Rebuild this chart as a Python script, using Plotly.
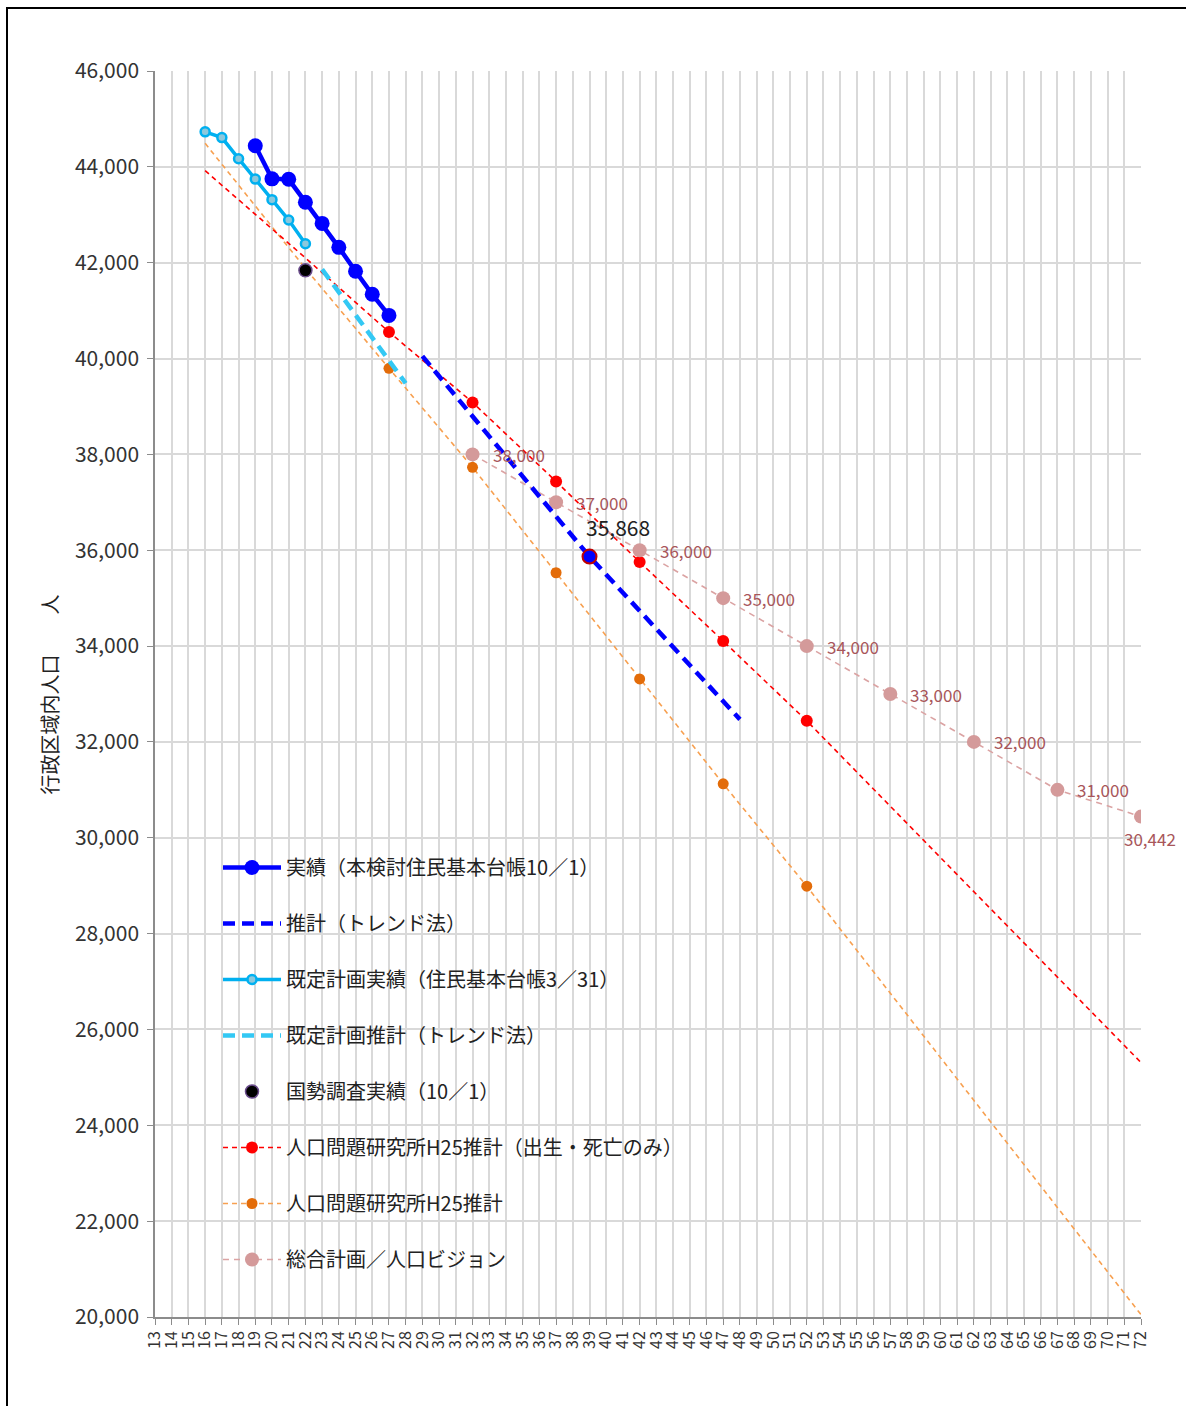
import plotly.graph_objects as go

# ---- data -------------------------------------------------------------
# Actual population (basic resident register, Oct 1)
actual_years = [19, 20, 21, 22, 23, 24, 25, 26, 27]
actual_pop = [44440, 43750, 43740, 43260, 42820, 42320, 41820, 41340, 40900]

# Trend projection from the actual series
trend_years = [29, 39, 48]
trend_pop = [40050, 35868, 32470]
highlight_year = 39
highlight_pop = 35868

# Previous plan: actual (register, Mar 31) and its trend
prev_years = [16, 17, 18, 19, 20, 21, 22]
prev_pop = [44730, 44610, 44170, 43745, 43315, 42890, 42395]
prev_trend_years = [23, 28]
prev_trend_pop = [41860, 39485]

# Census (Oct 1)
census_years = [22]
census_pop = [41840]

# IPSS H25 projections (markers are drawn on the 27-52 points)
ipss_years = [16, 22, 27, 32, 37, 42, 47, 52, 72]
ipss_natural_pop = [43920, 42100, 40555, 39085, 37435, 35755, 34105, 32440, 25310]
ipss_pop = [44490, 41880, 39795, 37730, 35530, 33315, 31125, 28990, 20050]
ipss_mark = slice(2, 8)

# Comprehensive plan / population vision
vision_years = [32, 37, 42, 47, 52, 57, 62, 67, 72]
vision_pop = [38000, 37000, 36000, 35000, 34000, 33000, 32000, 31000, 30442]

x_ticks = list(range(13, 73))
y_ticks = list(range(20000, 46001, 2000))

names = [
    "実績（本検討住民基本台帳10／1）",
    "推計（トレンド法）",
    "既定計画実績（住民基本台帳3／31）",
    "既定計画推計（トレンド法）",
    "国勢調査実績（10／1）",
    "人口問題研究所H25推計（出生・死亡のみ）",
    "人口問題研究所H25推計",
    "総合計画／人口ビジョン",
]

# ---- styles -----------------------------------------------------------
BLUE = "#0000ff"
CYAN = "#00b0f0"
CYAN_FILL = "#8cc8dc"
CYAN_TREND = "#33c8f4"
RED = "#ff0000"
ORANGE_LINE = "#f7a050"
ORANGE_MK = "#e36c09"
PINK_LINE = "#dba3a3"
PINK_MK = "#d49a9a"
PINK_TXT = "#a8565a"
FONT = "Noto Sans CJK JP"

styles = [
    dict(mode="lines+markers", line=dict(color=BLUE, width=4.5),
         marker=dict(color=BLUE, size=15)),
    dict(mode="lines", line=dict(color=BLUE, width=4.5, dash="12px,7px")),
    dict(mode="lines+markers", line=dict(color=CYAN, width=3.5),
         marker=dict(color=CYAN_FILL, size=9, line=dict(color=CYAN, width=2.5))),
    dict(mode="lines", line=dict(color=CYAN_TREND, width=4.5, dash="12px,7px")),
    dict(mode="markers", marker=dict(color="#000000", size=13,
                                     line=dict(color="#6a4c8c", width=1.5))),
    dict(mode="lines+markers", line=dict(color=RED, width=1.6, dash="5px,4px"),
         marker=dict(color=RED, size=12)),
    dict(mode="lines+markers", line=dict(color=ORANGE_LINE, width=1.6, dash="5px,4px"),
         marker=dict(color=ORANGE_MK, size=11)),
    dict(mode="lines+markers", line=dict(color=PINK_LINE, width=1.6, dash="6px,5px"),
         marker=dict(color=PINK_MK, size=14)),
]

fig = go.Figure()

# ---- plotted series (legend handled by the key entries below) ---------
fig.add_trace(go.Scatter(x=ipss_years, y=ipss_pop, mode="lines",
                         line=styles[6]["line"], showlegend=False, hoverinfo="skip"))
fig.add_trace(go.Scatter(x=ipss_years[ipss_mark], y=ipss_pop[ipss_mark], mode="markers",
                         marker=styles[6]["marker"], showlegend=False))
fig.add_trace(go.Scatter(x=ipss_years, y=ipss_natural_pop, mode="lines",
                         line=styles[5]["line"], showlegend=False, hoverinfo="skip"))
fig.add_trace(go.Scatter(x=ipss_years[ipss_mark], y=ipss_natural_pop[ipss_mark],
                         mode="markers", marker=styles[5]["marker"], showlegend=False))
fig.add_trace(go.Scatter(x=vision_years, y=vision_pop, showlegend=False, **styles[7]))
fig.add_trace(go.Scatter(x=prev_trend_years, y=prev_trend_pop, showlegend=False, **styles[3]))
fig.add_trace(go.Scatter(x=trend_years, y=trend_pop, showlegend=False, **styles[1]))
fig.add_trace(go.Scatter(x=prev_years, y=prev_pop, showlegend=False, **styles[2]))
fig.add_trace(go.Scatter(x=actual_years, y=actual_pop, showlegend=False, **styles[0]))
fig.add_trace(go.Scatter(x=census_years, y=census_pop, showlegend=False, **styles[4]))
fig.add_trace(go.Scatter(x=[highlight_year], y=[highlight_pop], mode="markers",
                         marker=dict(color=BLUE, size=14, line=dict(color="#c00000", width=2)),
                         showlegend=False))

# ---- legend key entries ------------------------------------------------
for i, (name, st) in enumerate(zip(names, styles)):
    fig.add_trace(go.Scatter(x=[None], y=[None], name=name, legendgroup=f"g{i}", **st))

# ---- value labels -------------------------------------------------------
annotations = []
for yr, v in zip(vision_years[:-1], vision_pop[:-1]):
    annotations.append(dict(x=yr, y=v, text=f"{v:,}", showarrow=False,
                            xanchor="left", yanchor="middle", xshift=18, yshift=0,
                            font=dict(family=FONT, size=17, color=PINK_TXT)))
annotations.append(dict(x=vision_years[-1], y=vision_pop[-1], text=f"{vision_pop[-1]:,}",
                        showarrow=False, xanchor="center", yanchor="middle",
                        xshift=9, yshift=-22,
                        font=dict(family=FONT, size=17, color=PINK_TXT)))
annotations.append(dict(x=highlight_year, y=highlight_pop, text=f"{highlight_pop:,}",
                        showarrow=False, xanchor="center", yanchor="middle",
                        xshift=28, yshift=30,
                        font=dict(family=FONT, size=21, color="#222222")))
# y-axis title
annotations.append(dict(xref="paper", yref="paper", x=-0.107, y=0.5,
                        text="行政区域内人口　　人", textangle=-90, showarrow=False,
                        xanchor="center", yanchor="middle",
                        font=dict(family=FONT, size=20, color="#222222")))

L, R, T, B = 155, 45, 71, 89
W, H = 1186, 1406
pw, ph = W - L - R, H - T - B


def px_x(p):
    return (p - L) / pw


def px_y(p):
    return (H - B - p) / ph


shapes = [
    # white panel behind the legend
    dict(type="rect", xref="paper", yref="paper", layer="below",
         x0=px_x(172), x1=px_x(727), y0=px_y(1290), y1=px_y(840),
         fillcolor="#ffffff", line=dict(width=0)),
    # page frame
    dict(type="rect", xref="paper", yref="paper", layer="above",
         x0=px_x(7), x1=px_x(1260), y0=px_y(1480), y1=px_y(8),
         fillcolor="rgba(0,0,0,0)", line=dict(color="#000000", width=2)),
]

fig.update_layout(
    width=W, height=H,
    margin=dict(l=L, r=R, t=T, b=B, pad=0),
    paper_bgcolor="#ffffff", plot_bgcolor="#ffffff",
    font=dict(family=FONT, size=19, color="#333333"),
    showlegend=True,
    legend=dict(x=px_x(218), y=px_y(848), xanchor="left", yanchor="top",
                bgcolor="rgba(0,0,0,0)", borderwidth=0,
                font=dict(family=FONT, size=20, color="#222222"),
                itemwidth=58, tracegroupgap=27, traceorder="grouped"),
    annotations=annotations,
    shapes=shapes,
)

fig.update_xaxes(
    range=[13, 72], tickmode="array", tickvals=x_ticks,
    ticktext=[str(t) for t in x_ticks], tickangle=-90,
    tickfont=dict(family=FONT, size=16, color="#333333"),
    showgrid=True, gridcolor="#d9d9d9", gridwidth=1.5,
    showline=True, linecolor="#8c8c8c", linewidth=1.5,
    ticks="outside", ticklen=6, tickcolor="#8c8c8c", zeroline=False,
)
fig.update_yaxes(
    range=[20000, 46000], tickmode="array", tickvals=y_ticks,
    ticktext=[f"{t:,}" for t in y_ticks],
    tickfont=dict(family=FONT, size=21, color="#333333"),
    ticklabelstandoff=4,
    showgrid=True, gridcolor="#d9d9d9", gridwidth=1.5,
    showline=True, linecolor="#8c8c8c", linewidth=1.5,
    ticks="outside", ticklen=6, tickcolor="#8c8c8c", zeroline=False,
)

fig.write_html("out.html")
